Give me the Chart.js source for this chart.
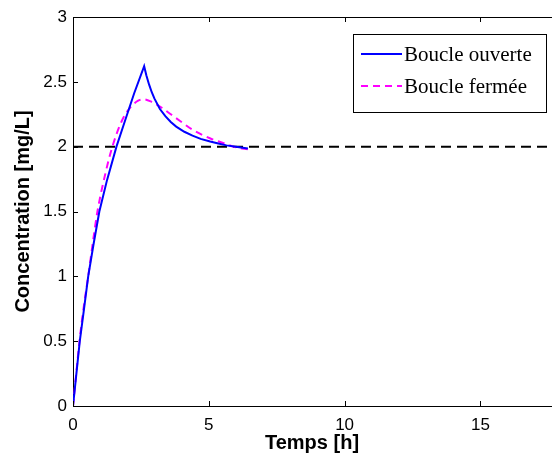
<!DOCTYPE html>
<html>
<head>
<meta charset="utf-8">
<script src="https://cdn.jsdelivr.net/npm/chart.js@4.4.1/dist/chart.umd.min.js"></script>
<style>
  html, body { margin: 0; padding: 0; background: #fff; }
  #wrap { width: 552px; height: 459px; }
</style>
</head>
<body>
<div id="wrap"><canvas id="myChart" width="552" height="459"></canvas></div>
<script>
/* globals Chart:false */

// Boucle ouverte
const tempsOuverte = [0, 0.1, 0.25, 0.4, 0.56, 0.75, 0.97, 1.25, 1.6, 1.9, 2.25, 2.62, 2.7, 2.8, 2.9, 3.0, 3.2, 3.4, 3.6, 3.8, 4.1, 4.4, 4.7, 5.05, 5.35, 5.65, 6.0, 6.44];
const concOuverte  = [0, 0.2, 0.5, 0.74, 1.0, 1.24, 1.5, 1.74, 2.0, 2.19, 2.41, 2.62, 2.55, 2.48, 2.42, 2.37, 2.29, 2.235, 2.19, 2.155, 2.115, 2.085, 2.06, 2.04, 2.025, 2.01, 2.0, 1.985];

// Boucle fermée
const tempsFermee = [0, 0.1, 0.25, 0.4, 0.56, 0.75, 0.9, 1.2, 1.45, 1.8, 2.1, 2.4, 2.6, 2.9, 3.2, 3.6, 3.93, 4.42, 5.04, 5.5, 6.0, 6.44];
const concFermee  = [0, 0.21, 0.52, 0.77, 1.0, 1.29, 1.5, 1.8, 2.0, 2.2, 2.3, 2.355, 2.365, 2.345, 2.31, 2.25, 2.2, 2.128, 2.065, 2.03, 1.995, 1.98];

// consigne
const consigne = 2;

const xTicks = [0, 5, 10, 15];
const yTicks = [0, 0.5, 1, 1.5, 2, 2.5, 3];
const xMax = 17.6;

const legendItems = [
    { label: "Boucle ouverte", color: "#0000ff", dash: [] },
    { label: "Boucle fermée", color: "#ff00ff", dash: [7, 5] },
];

const toPoints = (xs, ys) => xs.map((x, i) => ({ x: x, y: ys[i] }));

// petites graduations vers l'intérieur + bord du haut
const inwardTicks = {
    id: "inwardTicks",
    afterDraw(chart) {
        const { ctx, chartArea, scales } = chart;
        ctx.save();
        ctx.strokeStyle = "#000";
        ctx.lineWidth = 1;
        ctx.beginPath();
        ctx.moveTo(chartArea.left, chartArea.top + 0.5);
        ctx.lineTo(chartArea.right + 2, chartArea.top + 0.5);
        xTicks.forEach((v) => {
            const px = Math.round(scales.x.getPixelForValue(v)) + 0.5;
            ctx.moveTo(px, chartArea.bottom);
            ctx.lineTo(px, chartArea.bottom - 5);
            ctx.moveTo(px, chartArea.top);
            ctx.lineTo(px, chartArea.top + 5);
        });
        yTicks.forEach((v) => {
            const py = Math.round(scales.y.getPixelForValue(v)) + 0.5;
            ctx.moveTo(chartArea.left, py);
            ctx.lineTo(chartArea.left + 5, py);
        });
        ctx.stroke();
        ctx.restore();
    },
};

// légende encadrée en haut à droite
const boxLegend = {
    id: "boxLegend",
    afterDraw(chart) {
        const ctx = chart.ctx;
        const x0 = 353, y0 = 34, w = 193, h = 78;
        ctx.save();
        ctx.fillStyle = "#fff";
        ctx.fillRect(x0, y0, w, h);
        ctx.strokeStyle = "#000";
        ctx.lineWidth = 1;
        ctx.strokeRect(x0 + 0.5, y0 + 0.5, w, h);
        ctx.font = "21px 'Liberation Serif'";
        ctx.textBaseline = "middle";
        legendItems.forEach((item, i) => {
            const y = y0 + 20 + i * 32;
            ctx.strokeStyle = item.color;
            ctx.lineWidth = 2;
            ctx.setLineDash(item.dash);
            ctx.beginPath();
            ctx.moveTo(x0 + 8, y);
            ctx.lineTo(x0 + 49, y);
            ctx.stroke();
            ctx.setLineDash([]);
            ctx.fillStyle = "#000";
            ctx.fillText(item.label, x0 + 51, y + 1);
        });
        ctx.restore();
    },
};

const ctx = document.getElementById("myChart");
// eslint-disable-next-line no-unused-vars
const myChart = new Chart(ctx, {
    type: "scatter",
    data: {
        datasets: [
            {
                label: "Boucle ouverte",
                data: toPoints(tempsOuverte, concOuverte),
                showLine: true,
                tension: 0,
                borderColor: "#0000ff",
                borderWidth: 2,
                pointRadius: 0,
            },
            {
                label: "Boucle fermée",
                data: toPoints(tempsFermee, concFermee),
                showLine: true,
                cubicInterpolationMode: "monotone",
                borderColor: "#ff00ff",
                borderWidth: 2,
                borderDash: [7, 5],
                pointRadius: 0,
            },
            {
                label: "Consigne",
                data: [{ x: 0, y: consigne }, { x: xMax, y: consigne }],
                showLine: true,
                borderColor: "#000",
                borderWidth: 2,
                borderDash: [10, 6],
                pointRadius: 0,
            },
        ],
    },
    options: {
        responsive: false,
        animation: false,
        layout: { padding: { top: 17, right: 1, left: 0, bottom: 0 } },
        plugins: {
            legend: { display: false },
            tooltip: { enabled: false },
        },
        scales: {
            x: {
                type: "linear",
                min: 0,
                max: xMax,
                afterBuildTicks: (scale) => {
                    scale.ticks = xTicks.map((v) => ({ value: v }));
                },
                afterFit: (scale) => {
                    scale.height = 53;
                },
                grid: { display: false, drawTicks: false },
                border: { display: true, color: "#000", width: 1 },
                ticks: {
                    color: "#000",
                    padding: 9,
                    maxRotation: 0,
                    font: { family: "'Liberation Sans'", size: 17 },
                    callback: (v) => String(v),
                },
                title: {
                    display: true,
                    text: "Temps [h]",
                    color: "#000",
                    padding: { top: 0, bottom: 4 },
                    font: { family: "'Liberation Sans'", size: 20, weight: "bold" },
                },
            },
            y: {
                type: "linear",
                min: 0,
                max: 3,
                afterBuildTicks: (scale) => {
                    scale.ticks = yTicks.map((v) => ({ value: v }));
                },
                afterFit: (scale) => {
                    scale.width = 73;
                },
                grid: { display: false, drawTicks: false },
                border: { display: true, color: "#000", width: 1 },
                ticks: {
                    color: "#000",
                    padding: 6,
                    font: { family: "'Liberation Sans'", size: 17 },
                    callback: (v) => String(v),
                },
                title: {
                    display: true,
                    text: "Concentration [mg/L]",
                    color: "#000",
                    padding: { top: 11, bottom: 0 },
                    font: { family: "'Liberation Sans'", size: 20, weight: "bold" },
                },
            },
        },
    },
    plugins: [inwardTicks, boxLegend],
});
</script>
</body>
</html>
